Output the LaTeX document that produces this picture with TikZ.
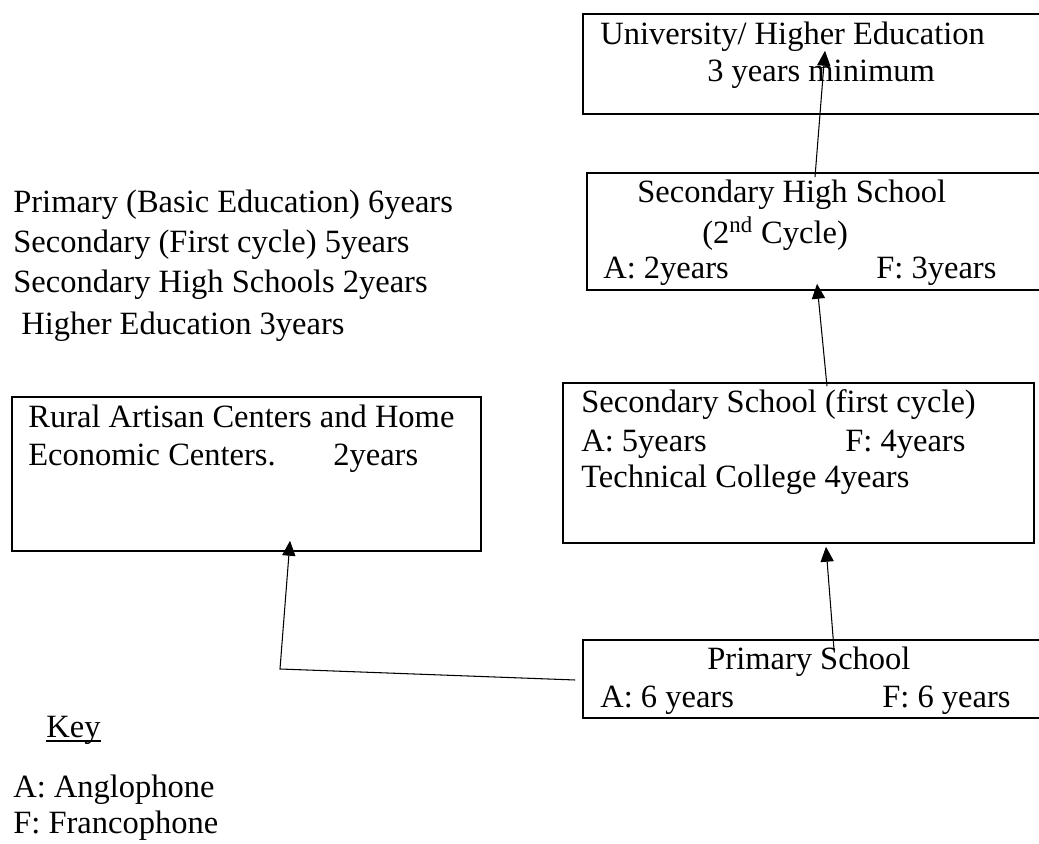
\documentclass[tikz,border=0pt]{standalone}
\usepackage{fontspec}
\setmainfont{Liberation Serif}
\usetikzlibrary{positioning,fit,calc,arrows.meta}

\tikzset{
  box/.style={draw, line width=0.9pt, inner sep=0pt},
  txt/.style={anchor=base west, inner sep=0pt, font=\fontsize{18.5}{22}\selectfont},
  arrow/.style={line width=0.6pt, -{Triangle[width=7.5pt,length=8.5pt]}}
}

\begin{document}
\begin{tikzpicture}[x=0.02cm, y=-0.02cm]
  \useasboundingbox (0,0) rectangle (1039,844);

  % boxes
  \node[box, fit={(583,14) (1045,114)}] (univ) {};
  \node[box, fit={(587,173) (1045,290)}] (shs) {};
  \node[box, fit={(563,383) (1034,543)}] (sec) {};
  \node[box, fit={(12,397) (481,551)}] (rural) {};
  \node[box, fit={(583,640) (1045,718)}] (prim) {};

  % box texts
  \node[txt] (univA) at (600,45) {University/ Higher Education};
  \node[txt] (univB) at (707,82) {3 years minimum};
  \node[txt] (shsA) at (637,203) {Secondary High School};
  \node[txt] (shsB) at (702,244) {(2\textsuperscript{nd} Cycle)};
  \node[txt] (shsC) at (603,279) {A: 2years};
  \node[txt] (shsD) at (876,279) {F: 3years};
  \node[txt] (secA) at (581,413) {Secondary School (first cycle)};
  \node[txt] (secB) at (581,452) {A: 5years};
  \node[txt] (secC) at (845,452) {F: 4years};
  \node[txt] (secD) at (581,488) {Technical College 4years};
  \node[txt] (ruralA) at (28,428) {Rural Artisan Centers and Home};
  \node[txt] (ruralB) at (28,466) {Economic Centers.};
  \node[txt] (ruralC) at (333,466) {2years};
  \node[txt] (primA) at (707,670) {Primary School};
  \node[txt] (primB) at (600,708) {A: 6 years};
  \node[txt] (primC) at (882,708) {F: 6 years};

  % durations list
  \node[txt] (list1) at (13,213) {Primary (Basic Education) 6years};
  \node[txt] (list2) at (13,253) {Secondary (First cycle) 5years};
  \node[txt] (list3) at (13,293) {Secondary High Schools 2years};
  \node[txt] (list4) at (21,335) {Higher Education 3years};

  % key
  \node[txt] (key) at (46,738) {Key};
  \draw[line width=0.6pt] ($(key.base west)+(0,3)$) -- ($(key.base east)+(0,3)$);
  \node[txt] (keyA) at (13,798) {A: Anglophone};
  \node[txt] (keyF) at (13,833) {F: Francophone};

  % arrows
  \coordinate (bend) at (280,669);
  \draw[arrow] ($(prim.north)+(20,10)$) -- ($(sec.south)+(27.5,3)$);
  \draw[arrow] ($(sec.north)+(28.5,4)$) -- ($(shs.south)+(1,-7)$);
  \draw[arrow] ($(shs.north)+(-1,5)$) -- ($(univ.south)+(11,-64)$);
  \draw[arrow] ($(prim.west)+(-7,1)$) -- (bend) -- ($(rural.south)+(43.5,-11)$);
\end{tikzpicture}
\end{document}
